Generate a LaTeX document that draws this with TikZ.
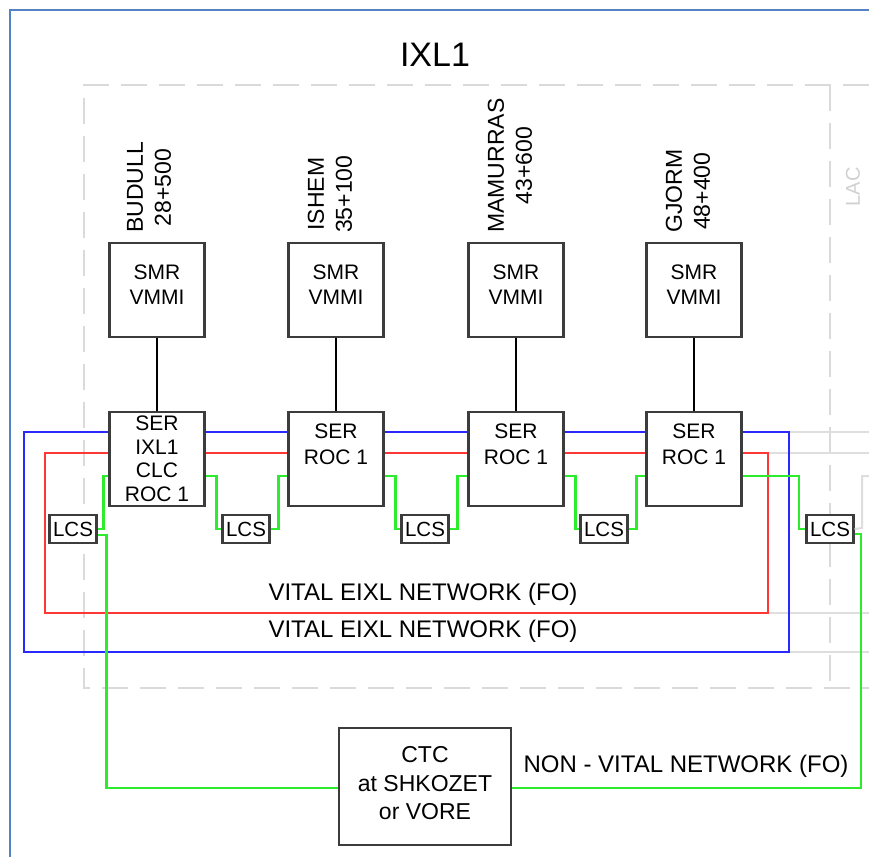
\documentclass[tikz,border=0pt]{standalone}
\usepackage{fontspec}
\setmainfont{Liberation Sans}
\definecolor{boxgray}{RGB}{60,60,60}
\definecolor{frameblue}{RGB}{84,130,196}
\definecolor{dashgray}{RGB}{218,218,218}
\definecolor{fadegray}{RGB}{222,222,222}
\definecolor{netblue}{RGB}{40,40,255}
\definecolor{netred}{RGB}{255,55,55}
\definecolor{netgreen}{RGB}{45,235,45}
\begin{document}
\begin{tikzpicture}[x=1pt,y=-1pt,
  box/.style={draw=boxgray, line width=2.1pt, fill=white, minimum width=95pt, minimum height=94pt, inner sep=0pt},
  lbl/.style={align=center, text=black, font=\fontsize{21}{25}\selectfont},
  lcsbox/.style={draw=boxgray, line width=2.1pt, fill=white, minimum width=47pt, minimum height=28pt, inner sep=0pt, font=\fontsize{20.5}{24}\selectfont},
  toplbl/.style={rotate=90, anchor=west, align=center, inner sep=0pt, font=\fontsize{23}{28}\selectfont},
  conn/.style={draw=black, line width=1.7pt},
  blu/.style={draw=netblue, line width=2.2pt},
  rd/.style={draw=netred, line width=2.2pt},
  grn/.style={draw=netgreen, line width=2.2pt},
  fade/.style={draw=fadegray, line width=2pt},
  dashb/.style={draw=dashgray, line width=2.2pt, dash pattern=on 26pt off 12pt},
  net/.style={font=\fontsize{24}{28}\selectfont, inner sep=0pt}
]
\useasboundingbox (0,0) rectangle (869,857);
\fill[white] (0,0) rectangle (869,857);

% outer frame
\draw[draw=frameblue, line width=2.2pt] (10,857) -- (10,10) -- (869,10);

% title
\node[font=\fontsize{34}{40}\selectfont, inner sep=0pt] (title) at (435,55) {IXL1};

% dashed IXL boundary
\draw[dashb] (869,85) -- (84,85) -- (84,688) -- (869,688);
\draw[dashb] (830,85) -- (830,688);
\node[rotate=90, text=dashgray!90!gray, font=\fontsize{20}{24}\selectfont, inner sep=0pt] (lac) at (853,187) {LAC};

% faded lines of the next diagram
\draw[fade] (790,432) -- (869,432);
\draw[fade] (769,453) -- (869,453);
\draw[fade] (769,613) -- (869,613);
\draw[fade] (790,652) -- (869,652);

% station labels
\node[toplbl] (st1) at (149,233) {BUDULL\\28+500};
\node[toplbl] (st2) at (330,233) {ISHEM\\35+100};
\node[toplbl] (st3) at (510,233) {MAMURRAS\\43+600};
\node[toplbl] (st4) at (688,233) {GJORM\\48+400};

% SMR boxes
\foreach \i/\x in {1/157, 2/336, 3/516, 4/694}{
  \node[box, label={[lbl, yshift=5.5pt, font=\fontsize{21}{25}\selectfont]center:{SMR\\VMMI}}] (smr\i) at (\x,290) {};
}

% SER boxes
\node[box, label={[lbl, font=\fontsize{21}{23.5}\selectfont]center:{SER\\IXL1\\CLC\\ROC 1}}] (ser1) at (157,459) {};
\foreach \i/\x in {2/336, 3/516, 4/694}{
  \node[box, label={[lbl, yshift=15pt, font=\fontsize{21}{26}\selectfont]center:{SER\\ROC 1}}] (ser\i) at (\x,459) {};
}

% SMR - SER connectors
\foreach \i in {1,2,3,4}{ \draw[conn] (smr\i) -- (ser\i); }

% LCS boxes
\node[lcsbox] (lcs1) at (73,529) {LCS};
\node[lcsbox] (lcs2) at (246,529) {LCS};
\node[lcsbox] (lcs3) at (425,529) {LCS};
\node[lcsbox] (lcs4) at (604,529) {LCS};
\node[lcsbox] (lcs5) at (830,529) {LCS};

% CTC box
\node[draw=boxgray, line width=2.1pt, fill=white, minimum width=172pt, minimum height=117pt, inner sep=0pt,
      label={[align=center, yshift=3pt, font=\fontsize{23}{28.5}\selectfont]center:{CTC\\at SHKOZET\\or VORE}}] (ctc) at (425,786.5) {};

% blue network
\draw[blu] ([yshift=27pt]ser1.west) -- (24,432) -- (24,652) -- (789,652) -- (789,432) -- ([yshift=27pt]ser4.east);
\draw[blu] ([yshift=27pt]ser1.east) -- ([yshift=27pt]ser2.west);
\draw[blu] ([yshift=27pt]ser2.east) -- ([yshift=27pt]ser3.west);
\draw[blu] ([yshift=27pt]ser3.east) -- ([yshift=27pt]ser4.west);

% red network
\draw[rd] ([yshift=6pt]ser1.west) -- (45,453) -- (45,613) -- (768,613) -- (768,453) -- ([yshift=6pt]ser4.east);
\draw[rd] ([yshift=6pt]ser1.east) -- ([yshift=6pt]ser2.west);
\draw[rd] ([yshift=6pt]ser2.east) -- ([yshift=6pt]ser3.west);
\draw[rd] ([yshift=6pt]ser3.east) -- ([yshift=6pt]ser4.west);

% faded link at LCS5
\draw[fade] (869,476) -- (862,476) -- (862,528) -- (lcs5.east);

% green links
\draw[grn] ([yshift=-17pt]ser1.west) -- ++(-5,0) |- (lcs1.east);
\draw[grn] ([yshift=-6pt]lcs1.east) -- ++(9,0) |- ([yshift=-1.5pt]ctc.west);
\draw[grn] ([yshift=-17pt]ser1.east) -- ++(11,0) |- (lcs2.west);
\draw[grn] (lcs2.east) -- ++(8,0) |- ([yshift=-17pt]ser2.west);
\draw[grn] ([yshift=-17pt]ser2.east) -- ++(11,0) |- (lcs3.west);
\draw[grn] (lcs3.east) -- ++(8,0) |- ([yshift=-17pt]ser3.west);
\draw[grn] ([yshift=-17pt]ser3.east) -- ++(11,0) |- (lcs4.west);
\draw[grn] (lcs4.east) -- ++(8,0) |- ([yshift=-17pt]ser4.west);
\draw[grn] ([yshift=-17pt]ser4.east) -- (799,476) |- (lcs5.west);
\draw[grn] ([yshift=-5pt]lcs5.east) -- (861,534) |- ([yshift=-1.5pt]ctc.east);

% network labels
\node[net] (vit1) at (423,594) {VITAL EIXL NETWORK (FO)};
\node[net] (vit2) at (423,631) {VITAL EIXL NETWORK (FO)};
\node[net] (nonvit) at (686,766) {NON - VITAL NETWORK (FO)};
\end{tikzpicture}
\end{document}
